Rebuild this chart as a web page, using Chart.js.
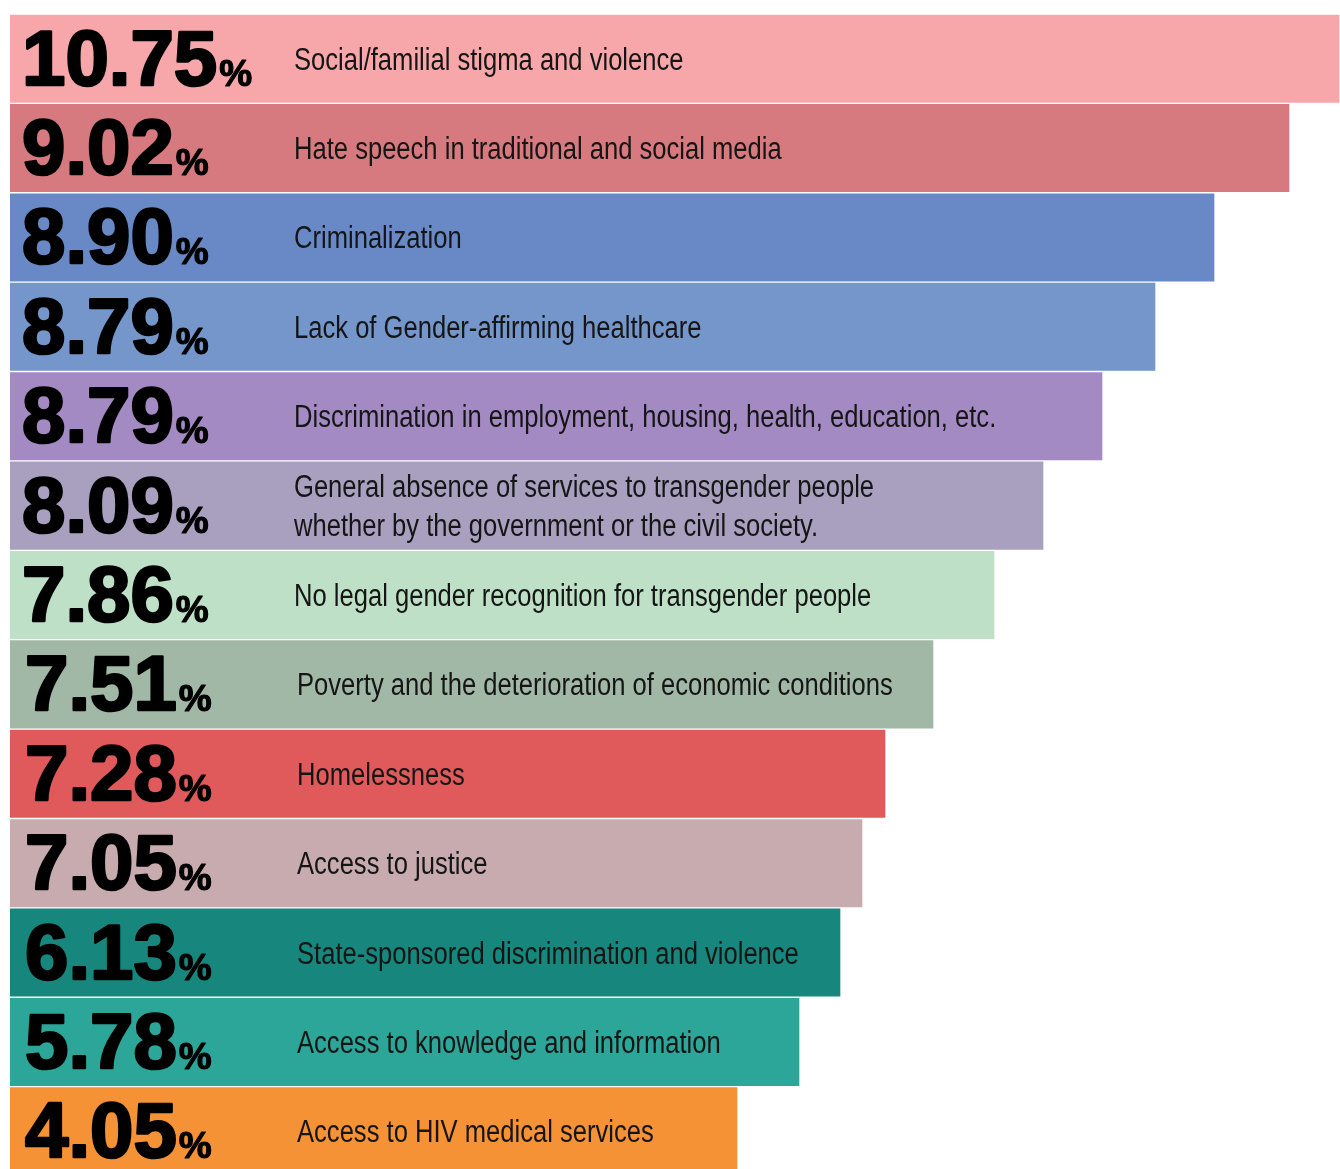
<!DOCTYPE html>
<html>
<head>
<meta charset="utf-8">
<script src="https://cdn.jsdelivr.net/npm/chart.js@4.4.0/dist/chart.umd.min.js"></script>
<style>
  html, body { margin: 0; padding: 0; background: #fff; overflow: hidden; }
  #wrap { width: 1340px; height: 1169px; overflow: hidden; }
</style>
</head>
<body>
<div id="wrap"><canvas id="issuesChart" width="1340" height="1176"></canvas></div>
<script>
// Share of respondents per issue (%)
const shares = [10.75, 9.02, 8.90, 8.79, 8.79, 8.09, 7.86, 7.51, 7.28, 7.05, 6.13, 5.78, 4.05];

const issues = [
    'Social/familial stigma and violence',
    'Hate speech in traditional and social media',
    'Criminalization',
    'Lack of Gender-affirming healthcare',
    'Discrimination in employment, housing, health, education, etc.',
    ['General absence of services to transgender people', 'whether by the government or the civil society.'],
    'No legal gender recognition for transgender people',
    'Poverty and the deterioration of economic conditions',
    'Homelessness',
    'Access to justice',
    'State-sponsored discrimination and violence',
    'Access to knowledge and information',
    'Access to HIV medical services'
];

// Drawn bar lengths (not proportional to shares)
const barLength = [1330, 1280, 1205, 1146, 1093, 1034, 985, 924, 876, 853, 831, 790, 728];

const barColors = [
    '#F7A6A9', '#D67A7F', '#6889C5', '#7596CA', '#A48AC3', '#A99FBF', '#BDE0C6',
    '#A2B8A6', '#E05A5C', '#C8ABAF', '#17877D', '#2CA698', '#F59236'
];

const rowLabelsPlugin = {
    id: 'rowLabels',
    afterDatasetsDraw(chart) {
        const ctx = chart.ctx;
        const meta = chart.getDatasetMeta(0);
        meta.data.forEach((bar, i) => {
            const mid = bar.y;
            const shift = i >= 7 ? 3 : 0;
            const numX = 22 + shift;
            const base = mid + 26;

            // big number
            ctx.save();
            ctx.fillStyle = '#000';
            ctx.strokeStyle = '#000';
            ctx.lineWidth = 2.6;
            ctx.lineJoin = 'round';
            ctx.textBaseline = 'alphabetic';
            ctx.font = 'bold 78px "Liberation Sans"';
            const numText = shares[i].toFixed(2);
            ctx.fillText(numText, numX, base);
            ctx.strokeText(numText, numX, base);
            const w = ctx.measureText(numText).width;
            ctx.font = 'bold 37px "Liberation Sans"';
            ctx.lineWidth = 1.2;
            ctx.fillText('%', numX + w + 2, base + 1);
            ctx.strokeText('%', numX + w + 2, base + 1);
            ctx.restore();

            // description
            const lines = Array.isArray(issues[i]) ? issues[i] : [issues[i]];
            const textX = 294 + shift;
            ctx.save();
            ctx.fillStyle = '#151515';
            ctx.font = '31px "Liberation Sans"';
            ctx.textBaseline = 'alphabetic';
            lines.forEach((line, k) => {
                const y = mid + 11 + (k - (lines.length - 1) / 2) * 39;
                ctx.save();
                ctx.translate(textX, y);
                ctx.scale(0.825, 1);
                ctx.fillText(line, 0, 0);
                ctx.restore();
            });
            ctx.restore();
        });
    }
};

new Chart(document.getElementById('issuesChart'), {
    type: 'bar',
    data: {
        labels: shares.map(v => v.toFixed(2) + '%'),
        datasets: [{
            data: barLength,
            backgroundColor: barColors,
            borderColor: 'rgba(255,255,255,0.35)',
            borderWidth: 1,
            borderSkipped: 'start',
            barPercentage: 1,
            categoryPercentage: 1
        }]
    },
    options: {
        indexAxis: 'y',
        responsive: false,
        devicePixelRatio: 1,
        animation: false,
        layout: { padding: { left: 10, top: 14, right: 0, bottom: 0 } },
        scales: {
            x: { display: false, min: 0, max: 1330 },
            y: { display: false }
        },
        plugins: {
            legend: { display: false },
            tooltip: { enabled: false }
        }
    },
    plugins: [rowLabelsPlugin]
});
</script>
</body>
</html>
